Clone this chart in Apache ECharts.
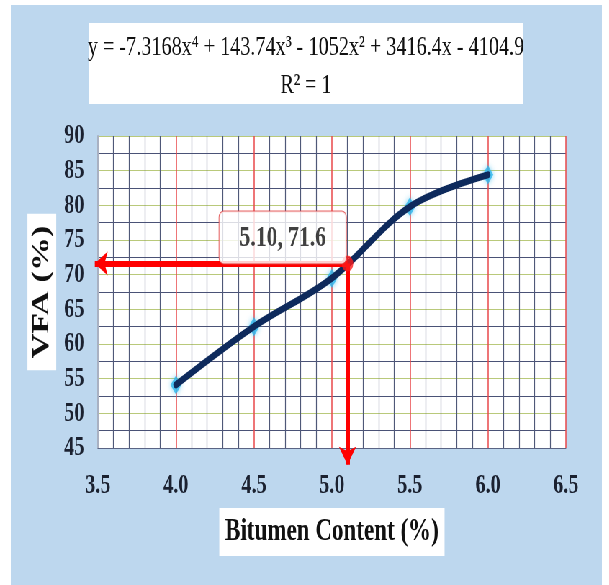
<!DOCTYPE html>
<html>
<head>
<meta charset="utf-8">
<script src="https://cdn.jsdelivr.net/npm/echarts@6/dist/echarts.min.js"></script>
<style>
  html, body { margin: 0; padding: 0; background: #ffffff; overflow: hidden; }
  #panel { position: absolute; left: 11px; top: 5px; width: 591px; height: 580px; background: #bdd7ee; }
  /* condensed serif look: chart is laid out wide and squeezed horizontally */
  #chart { position: absolute; left: 0; top: 0; width: 846px; height: 585px;
           transform: scaleX(0.72); transform-origin: 0 0; }
</style>
</head>
<body>
<div id="panel"></div>
<div id="chart"></div>
<script>
// Bitumen content (%) and measured VFA (%)
const bitumenContent = [4.0, 4.5, 5.0, 5.5, 6.0];
const vfaValues = [54.1, 62.5, 69.5, 79.8, 84.4];

// Optimum bitumen content and the VFA
const optimumPoint = [5.10, 71.6];

// Where the read-off arrows end (data units)
const arrowLeftX = 3.48;
const arrowBottomY = 42.6;

// Axis ranges and tick steps
const xTicks = { min: 3.5, max: 6.5, step: 0.5 };
const yTicks = { min: 45, max: 90, step: 5 };

const trendEquation = 'y = -7.3168x\u2074 + 143.74x\u00b3 - 1052x\u00b2 + 3416.4x - 4104.9';
const trendR2 = 'R\u00b2 = 1';

const SERIF = '"Liberation Serif", "Times New Roman", serif';
const INK = '#1b2130';

const measured = bitumenContent.map((x, i) => [x, vfaValues[i]]);

const chart = echarts.init(document.getElementById('chart'), null, { renderer: 'canvas' });

chart.setOption({
  backgroundColor: 'transparent',
  animation: false,
  textStyle: { fontFamily: SERIF },
  grid: {
    left: 136, right: 60, top: 136, bottom: 137,
    show: true, backgroundColor: '#ffffff', borderWidth: 0
  },
  graphic: [
    {
      type: 'rect',
      shape: { x: 124, y: 23, width: 603, height: 81 },
      style: { fill: '#ffffff' },
      z: 10
    },
    {
      type: 'text', x: 425, y: 48, z: 11,
      style: {
        text: trendEquation, fontFamily: SERIF, fontSize: 28, fill: '#111111',
        align: 'center', verticalAlign: 'middle', textAlign: 'center', textVerticalAlign: 'middle'
      }
    },
    {
      type: 'text', x: 425, y: 86, z: 11,
      style: {
        text: trendR2, fontFamily: SERIF, fontSize: 28, fill: '#111111',
        align: 'center', verticalAlign: 'middle', textAlign: 'center', textVerticalAlign: 'middle'
      }
    }
  ],
  xAxis: {
    type: 'value',
    min: xTicks.min, max: xTicks.max, interval: xTicks.step,
    name: 'Bitumen Content (%)',
    nameLocation: 'middle',
    nameGap: 60,
    nameTextStyle: {
      fontFamily: SERIF, fontSize: 32, fontWeight: 'bold', color: '#111111',
      backgroundColor: '#ffffff', padding: [6, 8, 6, 8], lineHeight: 36
    },
    axisLine: { show: true, lineStyle: { color: '#5a6484', width: 1 } },
    axisTick: { show: false },
    axisLabel: {
      margin: 24, fontFamily: SERIF, fontSize: 28, fontWeight: 'bold', color: INK,
      formatter: v => v.toFixed(1)
    },
    splitLine: { show: true, lineStyle: { color: '#e8474a', width: 1.5 } },
    minorTick: { show: false, splitNumber: 5 },
    minorSplitLine: { show: true, lineStyle: { color: '#4f5878', width: 1.2 } }
  },
  yAxis: {
    type: 'value',
    min: yTicks.min, max: yTicks.max, interval: yTicks.step,
    name: 'VFA (%)',
    nameLocation: 'middle',
    nameGap: 48,
    nameTextStyle: {
      fontFamily: SERIF, fontSize: 34, fontWeight: 'bold', color: '#111111',
      backgroundColor: '#ffffff', padding: [4, 12, 3, 12], lineHeight: 33
    },
    axisLine: { show: true, lineStyle: { color: '#a9b1c2', width: 2 } },
    axisTick: { show: false },
    axisLabel: {
      margin: 19, fontFamily: SERIF, fontSize: 28, fontWeight: 'bold', color: INK
    },
    splitLine: { show: true, lineStyle: { color: '#b9c97a', width: 1 } },
    minorTick: { show: false, splitNumber: 2 },
    minorSplitLine: { show: true, lineStyle: { color: '#4a5276', width: 1 } }
  },
  series: [
    {
      name: 'Measured VFA',
      type: 'scatter',
      data: measured,
      symbol: 'diamond',
      symbolSize: [15, 19],
      itemStyle: { color: '#2fb6ec', shadowBlur: 6, shadowColor: 'rgba(47,182,236,0.8)' },
      z: 3
    },
    {
      name: 'Polynomial trend',
      type: 'line',
      data: measured,
      smooth: 0.35,
      showSymbol: false,
      lineStyle: { color: '#0e2a5c', width: 7, cap: 'round' },
      z: 4
    },
    {
      name: 'Read-off arrows',
      type: 'lines',
      coordinateSystem: 'cartesian2d',
      clip: false,
      silent: true,
      symbol: ['none', 'arrow'],
      symbolSize: [16, 18],
      lineStyle: { color: '#ff0000', width: 6, opacity: 1, curveness: 0 },
      z: 5,
      data: [
        { coords: [optimumPoint, [arrowLeftX, optimumPoint[1]]] },
        { coords: [optimumPoint, [optimumPoint[0], arrowBottomY]] }
      ]
    },
    {
      name: 'Optimum',
      type: 'scatter',
      clip: false,
      data: [optimumPoint],
      symbol: 'circle',
      symbolSize: 16,
      itemStyle: { color: '#ff1a1a' },
      z: 6,
      label: {
        show: true,
        position: [6, 8],
        align: 'right',
        verticalAlign: 'bottom',
        formatter: p => p.value[0].toFixed(2) + ', ' + p.value[1].toFixed(1),
        fontFamily: SERIF, fontSize: 30, fontWeight: 'bold', color: '#111111',
        backgroundColor: '#ffffff', borderColor: '#e04040', borderWidth: 1,
        borderRadius: 6, padding: [12, 28, 10, 28]
      }
    }
  ]
});
</script>
</body>
</html>
